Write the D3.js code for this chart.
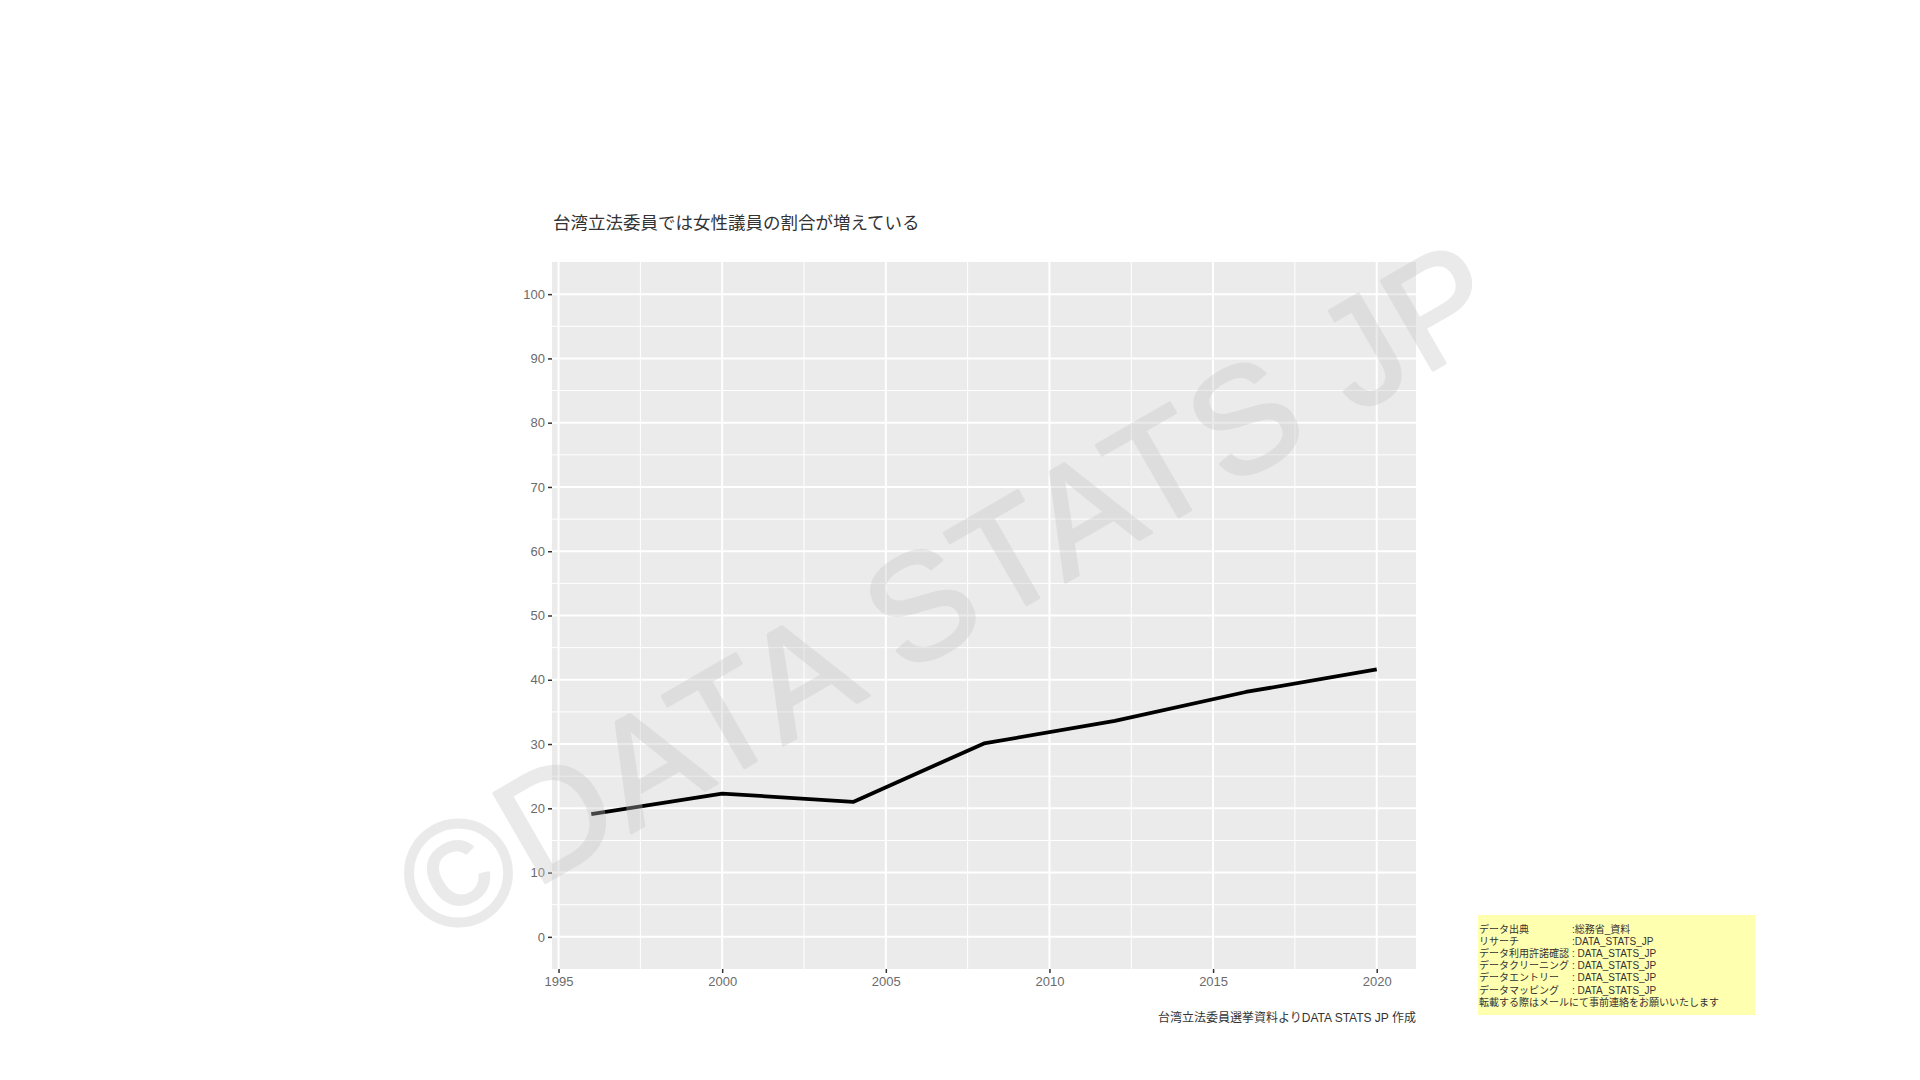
<!DOCTYPE html>
<html>
<head>
<meta charset="utf-8">
<script src="https://cdn.jsdelivr.net/npm/d3@7"></script>
<style>
  html, body { margin: 0; padding: 0; background: #fff; }
  svg { display: block; }
</style>
</head>
<body>
<script>
// ---- data ----
const years = [1996, 2000, 2004, 2008, 2012, 2016, 2020];
const femaleShare = [19.1, 22.3, 21.0, 30.1, 33.6, 38.1, 41.6];
const xTicks = [1995, 2000, 2005, 2010, 2015, 2020];
const xMinor = [1997.5, 2002.5, 2007.5, 2012.5, 2017.5];
const yTicks = [0, 10, 20, 30, 40, 50, 60, 70, 80, 90, 100];
const yMinor = [5, 15, 25, 35, 45, 55, 65, 75, 85, 95];
const titleText = "台湾立法委員では女性議員の割合が増えている";
const captionText = "台湾立法委員選挙資料よりDATA STATS JP 作成";
const creditLabels = ["データ出典", "リサーチ", "データ利用許諾確認", "データクリーニング", "データエントリー", "データマッピング"];
const creditValues = [":総務省_資料", ":DATA_STATS_JP", ": DATA_STATS_JP", ": DATA_STATS_JP", ": DATA_STATS_JP", ": DATA_STATS_JP"];
const creditNote = "転載する際はメールにて事前連絡をお願いいたします";
const watermarkText = "©DATA STATS JP";

// ---- layout ----
const W = 1920, H = 1080;
const panel = { left: 552, right: 1416, top: 262, bottom: 969 };
const MIXED = "\"Liberation Sans\", \"Noto Sans CJK JP\", sans-serif";
const CJK = "\"Noto Sans CJK JP\", sans-serif";

const svg = d3.select("body").append("svg").attr("width", W).attr("height", H);

const x = d3.scaleLinear()
  .domain([d3.min(years) - 0.05 * (d3.max(years) - d3.min(years)), d3.max(years) + 0.05 * (d3.max(years) - d3.min(years))])
  .range([panel.left, panel.right]);
const y = d3.scaleLinear().domain([-5, 105]).range([panel.bottom, panel.top]);

// panel background
svg.append("rect")
  .attr("x", panel.left).attr("y", panel.top)
  .attr("width", panel.right - panel.left).attr("height", panel.bottom - panel.top)
  .attr("fill", "#ebebeb");

const grid = svg.append("g");
grid.selectAll(".ymin").data(yMinor).join("line")
  .attr("x1", panel.left).attr("x2", panel.right)
  .attr("y1", d => y(d)).attr("y2", d => y(d))
  .attr("stroke", "#fff").attr("stroke-width", 1);
grid.selectAll(".xmin").data(xMinor).join("line")
  .attr("y1", panel.top).attr("y2", panel.bottom)
  .attr("x1", d => x(d)).attr("x2", d => x(d))
  .attr("stroke", "#fff").attr("stroke-width", 1);
grid.selectAll(".ymaj").data(yTicks).join("line")
  .attr("x1", panel.left).attr("x2", panel.right)
  .attr("y1", d => y(d)).attr("y2", d => y(d))
  .attr("stroke", "#fff").attr("stroke-width", 2);
grid.selectAll(".xmaj").data(xTicks).join("line")
  .attr("y1", panel.top).attr("y2", panel.bottom)
  .attr("x1", d => x(d)).attr("x2", d => x(d))
  .attr("stroke", "#fff").attr("stroke-width", 2);

// axes
const yAxis = d3.axisLeft(y).tickValues(yTicks).tickSize(4).tickPadding(3).tickFormat(d3.format("d"));
const gy = svg.append("g").attr("transform", `translate(${panel.left},0)`).call(yAxis);
const xAxis = d3.axisBottom(x).tickValues(xTicks).tickSize(4).tickPadding(4).tickFormat(d3.format("d"));
const gx = svg.append("g").attr("transform", `translate(0,${panel.bottom})`).call(xAxis);
[gx, gy].forEach(g => {
  g.attr("font-family", null).attr("font-size", null);
  g.select(".domain").remove();
  g.selectAll(".tick line").attr("stroke", "#333").attr("stroke-width", 1.5);
  g.selectAll(".tick text").attr("fill", "#6b6b6b")
    .style("font-family", MIXED).style("font-size", "13px");
});

// line
const line = d3.line().x((d, i) => x(years[i])).y(d => y(d));
svg.append("path").datum(femaleShare)
  .attr("d", line).attr("fill", "none")
  .attr("stroke", "#000").attr("stroke-width", 3.8)
  .attr("stroke-linejoin", "round").attr("stroke-linecap", "butt");

// title
svg.append("text").attr("x", 553).attr("y", 229)
  .style("font-family", CJK).style("font-size", "17.5px").attr("fill", "#333").text(titleText);

// caption
svg.append("text").attr("x", 1416).attr("y", 1022).attr("text-anchor", "end")
  .style("font-family", MIXED).style("font-size", "12px").attr("fill", "#333").text(captionText);

// credit box
const cb = svg.append("g");
cb.append("rect").attr("x", 1478).attr("y", 915).attr("width", 277).attr("height", 100).attr("fill", "#ffffb0");
creditLabels.forEach((t, i) => {
  cb.append("text").attr("x", 1479).attr("y", 933 + i * 12.1)
    .style("font-family", MIXED).style("font-size", "10px").attr("fill", "#333").text(t);
  cb.append("text").attr("x", 1572).attr("y", 933 + i * 12.1)
    .style("font-family", MIXED).style("font-size", "10px").attr("fill", "#333").text(creditValues[i]);
});
cb.append("text").attr("x", 1479).attr("y", 933 + 6 * 12.1)
  .style("font-family", MIXED).style("font-size", "10px").attr("fill", "#333").text(creditNote);

// watermark
svg.append("text")
  .attr("transform", "translate(948,590) rotate(-30)")
  .attr("text-anchor", "middle").attr("dominant-baseline", "central")
  .style("font-family", "\"Liberation Sans\", Arial, sans-serif")
  .style("font-size", "150px")
  .style("letter-spacing", "3px")
  .attr("fill", "rgb(198,198,198)")
  .attr("stroke", "rgb(198,198,198)").attr("stroke-width", 3).attr("stroke-linejoin", "round")
  .attr("opacity", 0.35)
  .text(watermarkText);
</script>
</body>
</html>
